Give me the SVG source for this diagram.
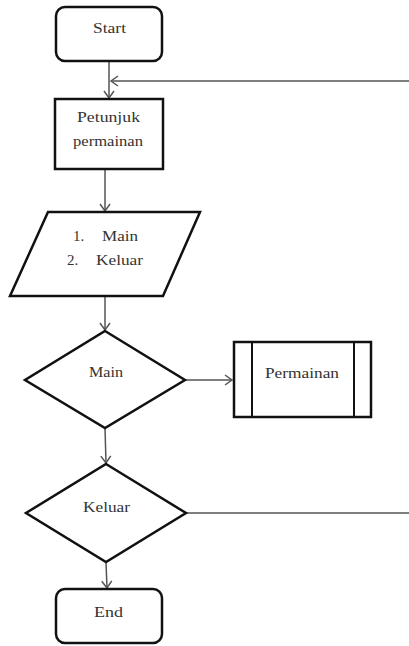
<svg xmlns="http://www.w3.org/2000/svg" width="409" height="646" viewBox="0 0 409 646">
<style>
.shape{fill:#fff;stroke:#111;stroke-width:2.5}
.thin{fill:none;stroke:#111;stroke-width:2}
.conn{fill:none;stroke:#555;stroke-width:1.5}
.t{font-family:'Liberation Serif','DejaVu Serif',serif;font-size:15px;fill:#333}
</style>
<defs>
<marker id="arr" markerWidth="12" markerHeight="12" refX="9" refY="6" orient="auto" markerUnits="userSpaceOnUse">
<path d="M2,1 L9,6 L2,11" fill="none" stroke="#555" stroke-width="1.5"/>
</marker>
</defs>
<rect width="409" height="646" fill="#fff"/>
<g id="connectors">
<line class="conn" x1="109" y1="62" x2="109" y2="98" marker-end="url(#arr)"/>
<line class="conn" x1="409" y1="81" x2="111" y2="81" marker-end="url(#arr)"/>
<line class="conn" x1="105" y1="169" x2="105" y2="211" marker-end="url(#arr)"/>
<line class="conn" x1="105" y1="296" x2="105" y2="330" marker-end="url(#arr)"/>
<line class="conn" x1="185" y1="380" x2="232" y2="380" marker-end="url(#arr)"/>
<line class="conn" x1="105" y1="428" x2="106" y2="463" marker-end="url(#arr)"/>
<line class="conn" x1="186" y1="513" x2="409" y2="513"/>
<line class="conn" x1="106" y1="562" x2="107" y2="588" marker-end="url(#arr)"/>
</g>
<g id="start">
<rect class="shape" x="56" y="7" width="106" height="54" rx="9"/>
<text class="t" x="93" y="33" textLength="33" lengthAdjust="spacingAndGlyphs">Start</text>
</g>
<g id="petunjuk">
<rect class="shape" x="55" y="99" width="108" height="70"/>
<text class="t" x="77" y="122" textLength="63" lengthAdjust="spacingAndGlyphs">Petunjuk</text>
<text class="t" x="73" y="146" textLength="70" lengthAdjust="spacingAndGlyphs">permainan</text>
</g>
<g id="menu">
<polygon class="shape" points="48,212 200,212 163,296 10,296"/>
<text class="t" x="73" y="241">1.</text>
<text class="t" x="102" y="241" textLength="36" lengthAdjust="spacingAndGlyphs">Main</text>
<text class="t" x="67" y="265">2.</text>
<text class="t" x="96" y="265" textLength="47" lengthAdjust="spacingAndGlyphs">Keluar</text>
</g>
<g id="main">
<polygon class="shape" points="105,331 185,380 105,428 25,380"/>
<text class="t" x="89" y="377" textLength="34" lengthAdjust="spacingAndGlyphs" font-size="14">Main</text>
</g>
<g id="permainan">
<rect class="shape" x="234" y="342" width="137" height="75"/>
<line class="thin" x1="252" y1="342" x2="252" y2="417"/>
<line class="thin" x1="354" y1="342" x2="354" y2="417"/>
<text class="t" x="265" y="378" textLength="74" lengthAdjust="spacingAndGlyphs">Permainan</text>
</g>
<g id="keluar">
<polygon class="shape" points="106,464 186,513 106,562 26,513"/>
<text class="t" x="83" y="512" textLength="47" lengthAdjust="spacingAndGlyphs">Keluar</text>
</g>
<g id="end">
<rect class="shape" x="56" y="589" width="106" height="54" rx="9"/>
<text class="t" x="94" y="617" textLength="29" lengthAdjust="spacingAndGlyphs">End</text>
</g>
</svg>
